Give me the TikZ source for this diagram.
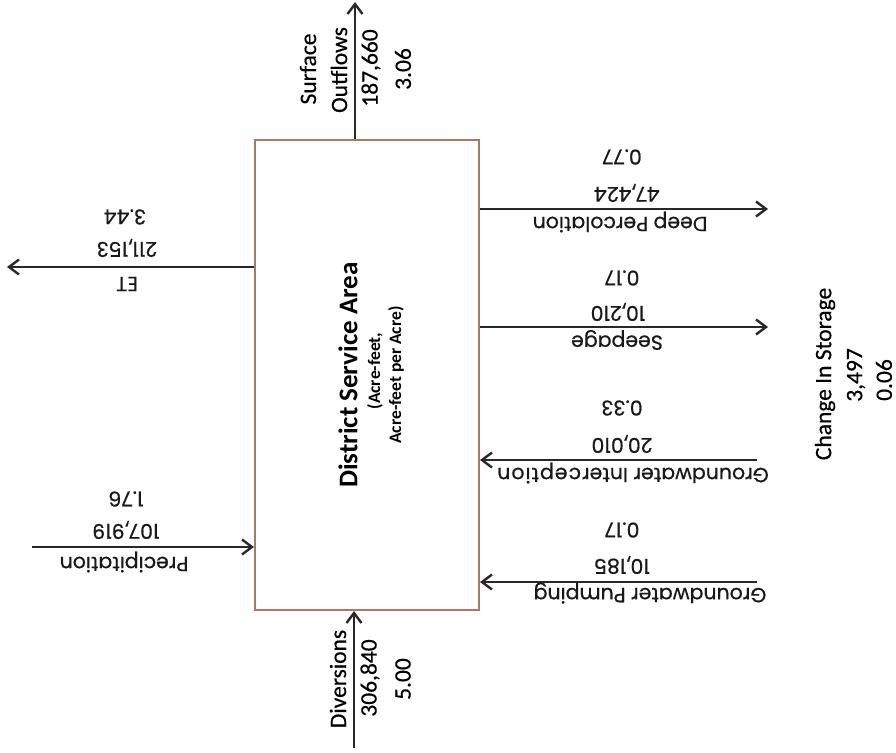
\documentclass[tikz,border=0pt]{standalone}
\usepackage{fontspec}
\setmainfont{Carlito}
\newfontfamily\pop[FakeBold=0.6]{Poppins}
\newfontfamily\carl[FakeBold=0.5]{Carlito}
\usetikzlibrary{arrows.meta}
\definecolor{boxc}{RGB}{172,120,100}
\definecolor{arrc}{RGB}{40,40,40}
\begin{document}
\begin{tikzpicture}[x=1pt,y=-1pt,
  flow/.style={line width=2.8pt, draw=arrc, -{Straight Barb[length=10pt,width=15pt,line width=2.4pt]}},
  vlab/.style={rotate=90, inner sep=0pt, font=\carl\fontsize{23.5}{26}\selectfont},
  ulab/.style={rotate=180, inner sep=0pt, font=\pop\fontsize{20.5}{24}\selectfont, text=black!90}]
\useasboundingbox (0,0) rectangle (896,752);
% main box
\node[draw=boxc, line width=2pt, minimum width=224pt, minimum height=470pt, inner sep=0pt] (dsa) at (367,375) {};
\node[rotate=90, inner sep=0pt, font=\bfseries\fontsize{27}{30}\selectfont] (ttl) at (348,375) {District Service Area};
\node[rotate=90, inner sep=0pt, font=\bfseries\fontsize{17.5}{20}\selectfont] (sub1) at (375,371) {(Acre-feet,};
\node[rotate=90, inner sep=0pt, font=\bfseries\fontsize{17.5}{20}\selectfont] (sub2) at (396,375) {Acre-feet per Acre)};
% coordinates of free ends
\coordinate (so) at (355,2);
\coordinate (et) at (7,267);
\coordinate (pr) at (32,547);
\coordinate (dv) at (354,748);
\coordinate (dp) at (768,209);
\coordinate (sp) at (768,327);
\coordinate (gi) at (757,460);
\coordinate (gp) at (757,582);
% connectors
\draw[flow] (so |- dsa.north) -- (so);
\draw[flow] (et -| dsa.west) -- (et);
\draw[flow] (pr) -- (pr -| dsa.west);
\draw[flow] (dv) -- (dv |- dsa.south);
\draw[flow] (dp -| dsa.east) -- (dp);
\draw[flow] (sp -| dsa.east) -- (sp);
\draw[flow] (gi) -- (gi -| dsa.east);
\draw[flow] (gp) -- (gp -| dsa.east);
% surface outflows labels
\node[vlab] (so1) at (308,69) {Surface};
\node[vlab] (so2) at (339,70) {Outflows};
\node[vlab] (so3) at (371,68) {187,660};
\node[vlab] (so4) at (403,69) {3.06};
% diversions labels
\node[vlab] (dv1) at (338,679) {Diversions};
\node[vlab] (dv2) at (370,678) {306,840};
\node[vlab] (dv3) at (403,679) {5.00};
% change in storage
\node[vlab] (cs1) at (825,374) {Change In Storage};
\node[vlab] (cs2) at (856,375) {3,497};
\node[vlab] (cs3) at (884,380) {0.06};
% ET
\node[ulab] (et1) at (127,284) {ET};
\node[ulab] (et2) at (127,248) {211,153};
\node[ulab] (et3) at (125,217) {3.44};
% precipitation
\node[ulab] (pr1) at (124,562) {Precipitation};
\node[ulab] (pr2) at (126,530) {107,919};
\node[ulab] (pr3) at (126,499) {1.76};
% deep percolation
\node[ulab] (dp1) at (620,222) {Deep Percolation};
\node[ulab] (dp2) at (627,193) {47,424};
\node[ulab] (dp3) at (622,157) {0.77};
% seepage
\node[ulab] (sp1) at (617,340) {Seepage};
\node[ulab] (sp2) at (618,312) {10,210};
\node[ulab] (sp3) at (622,278) {0.17};
% groundwater interception
\node[ulab] (gi1) at (633,473) {Groundwater Inter\kern1pt c\kern1pt e\kern1pt p\kern1pt t\kern1pt i\kern1pt o\kern1pt n};
\node[ulab] (gi2) at (622,444) {20,010};
\node[ulab] (gi3) at (622,408) {0.33};
% groundwater pumping
\node[ulab] (gp1) at (650,593) {Groundwater Pumping};
\node[ulab] (gp2) at (622,565) {10,185};
\node[ulab] (gp3) at (622,530) {0.17};
\end{tikzpicture}
\end{document}
